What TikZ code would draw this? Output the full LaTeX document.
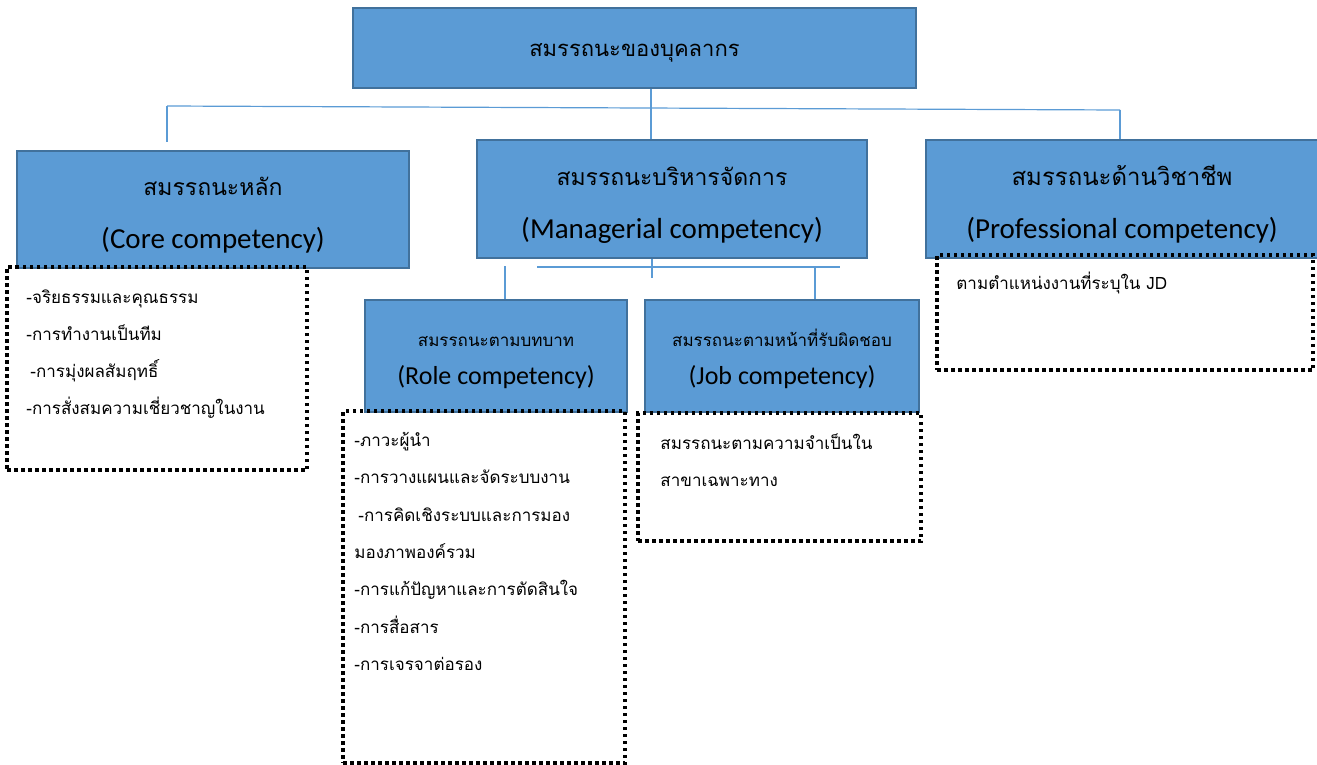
\documentclass[tikz,border=0pt]{standalone}
\usepackage{fontspec}
\setmainfont{Carlito}
\newfontfamily\thai[Script=Thai]{Loma}
\usetikzlibrary{positioning, calc}
\definecolor{BoxFill}{RGB}{91, 155, 213}
\definecolor{BoxEdge}{RGB}{65, 113, 156}
\definecolor{LinkBlue}{RGB}{91, 155, 213}

\begin{document}
\begin{tikzpicture}[x=1pt, y=-1pt]
        \tikzset{
            comp_box/.style={rectangle, draw=BoxEdge, line width=2pt, fill=BoxFill, align=center, inner sep=0pt},
            big_text/.style={font=\fontsize{29}{53}\selectfont},
            small_text/.style={font=\fontsize{26}{38}\selectfont},
            list_box/.style={rectangle, draw=black, line width=3.5pt, dash pattern=on 3.5pt off 3.5pt, inner sep=0pt},
            list_text/.style={align=left, inner sep=0pt, font=\thai\fontsize{17}{37.3}\selectfont},
            link/.style={draw=LinkBlue, line width=1.2pt}
        }
        \useasboundingbox (0,0) rectangle (1317,765);

        % top level
        \node[comp_box, minimum width=563pt, minimum height=80pt] (top) at (634.5,48) {\thai\fontsize{22}{30}\selectfont\rule{0pt}{22pt}สมรรถนะของบุคลากร};

        % second level
        \node[comp_box, big_text, minimum width=392pt, minimum height=117pt] (core) at (213,209.5) {{\thai\fontsize{23}{53}\selectfont\rule{0pt}{30pt}สมรรถนะหลัก}\\(Core competency)};
        \node[comp_box, big_text, minimum width=390pt, minimum height=118pt] (mgr) at (672,199) {{\thai\fontsize{23}{53}\selectfont\rule{0pt}{30pt}สมรรถนะบริหารจัดการ}\\(Managerial competency)};
        \node[comp_box, big_text, minimum width=392pt, minimum height=118pt] (prof) at (1122,199) {{\thai\fontsize{24}{53}\selectfont\rule{0pt}{30pt}สมรรถนะด้านวิชาชีพ}\\(Professional competency)};

        % third level
        \node[comp_box, small_text, minimum width=262pt, minimum height=112pt] (role) at (496,356) {{\thai\fontsize{17}{38}\selectfont\rule{0pt}{23pt}สมรรถนะตามบทบาท}\\(Role competency)};
        \node[comp_box, small_text, minimum width=274pt, minimum height=112pt] (job) at (782,356) {{\thai\fontsize{17}{38}\selectfont\rule{0pt}{23pt}สมรรถนะตามหน้าที่รับผิดชอบ}\\(Job competency)};

        % dotted lists
        \node[list_box, minimum width=300pt, minimum height=203pt] (corelist) at (157,368.5) {};
        \node[list_text, below right=24pt and 21pt of corelist.north west] (coreitems) {-จริยธรรมและคุณธรรม\\-การทำงานเป็นทีม\\\hspace{4pt}-การมุ่งผลสัมฤทธิ์\\-การสั่งสมความเชี่ยวชาญในงาน};

        \node[list_box, minimum width=282pt, minimum height=352pt] (rolelist) at (484,587) {};
        \node[list_text, below right=23pt and 13pt of rolelist.north west] (roleitems) {-ภาวะผู้นำ\\-การวางแผนและจัดระบบงาน\\\hspace{4pt}-การคิดเชิงระบบและการมอง\\มองภาพองค์รวม\\-การแก้ปัญหาและการตัดสินใจ\\-การสื่อสาร\\-การเจรจาต่อรอง};

        \node[list_box, minimum width=283pt, minimum height=128pt] (joblist) at (779.5,477) {};
        \node[list_text, below right=22pt and 24pt of joblist.north west] (jobitems) {สมรรถนะตามความจำเป็นใน\\สาขาเฉพาะทาง};

        \node[list_box, minimum width=376pt, minimum height=115pt] (proflist) at (1125,312.5) {};
        \node[list_text, below right=19pt and 21pt of proflist.north west] (profitems) {ตามตำแหน่งงานที่ระบุใน JD};

        % connectors
        \coordinate (busL) at (167,106);
        \coordinate (busM) at (651,106);
        \coordinate (busR) at (1120,110);
        \draw[link] (busL) -- (busR);
        \draw[link] (top.south -| busM) -- (mgr.north -| busM);
        \draw[link] (busL) -- ($(core.north -| busL)+(0,-8)$);
        \draw[link] (busR) -- (prof.north -| busR);

        \coordinate (subL) at (537,267);
        \coordinate (subR) at (840,267);
        \coordinate (subM) at (652,278);
        \coordinate (roleUp) at (505,266);
        \coordinate (jobUp) at (815,266);
        \draw[link] (subL) -- (subR);
        \draw[link] (mgr.south -| subM) -- (subM);
        \draw[link] (roleUp) -- (role.north -| roleUp);
        \draw[link] (jobUp) -- (job.north -| jobUp);

    \end{tikzpicture}
\end{document}
